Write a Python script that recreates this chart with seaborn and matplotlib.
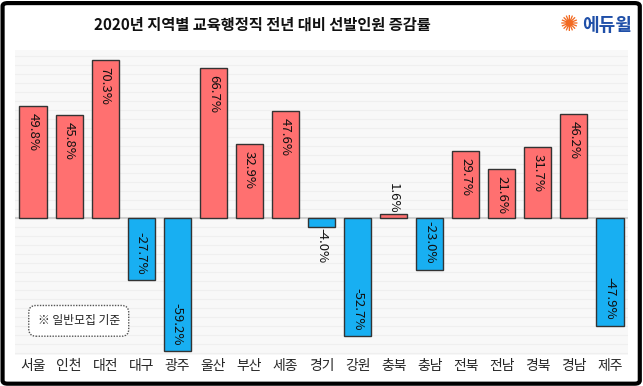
import matplotlib
matplotlib.use("Agg")
import matplotlib.pyplot as plt
from matplotlib.patches import FancyBboxPatch
import numpy as np
import pandas as pd
import seaborn as sns

regions = ["서울", "인천", "대전", "대구", "광주", "울산", "부산", "세종", "경기",
           "강원", "충북", "충남", "전북", "전남", "경북", "경남", "제주"]
changes = [49.8, 45.8, 70.3, -27.7, -59.2, 66.7, 32.9, 47.6, -4.0,
           -52.7, 1.6, -23.0, 29.7, 21.6, 31.7, 46.2, -47.9]
title = "2020년 지역별 교육행정직 전년 대비 선발인원 증감률"
note = "※ 일반모집 기준"
brand = "에듀윌"

sns.set_theme(style="white")
plt.rcParams['font.family'] = ['Noto Sans CJK KR', 'DejaVu Sans']

df = pd.DataFrame({"region": regions, "change": changes})
df["sign"] = np.where(df["change"] >= 0, "up", "down")

fig = plt.figure(figsize=(6.43, 3.86), dpi=100)
ax = fig.add_axes([0.0233, 0.0803, 0.9534, 0.7902])
ax.set_facecolor("#f8f8f8")

sns.barplot(data=df, x="region", y="change", hue="sign",
            palette={"up": "#ff7070", "down": "#18aff2"}, saturation=1,
            dodge=False, width=0.75, edgecolor="#333333", linewidth=1.0,
            legend=False, ax=ax, zorder=3)

ax.set_ylim(-61, 74.8)
ax.set_xlim(-0.5, len(regions) - 0.5)
ax.set_yticks(np.arange(-60, 76, 4))
ax.yaxis.grid(True, color="#efefef", linewidth=0.8, zorder=0)
ax.set_axisbelow(True)
ax.tick_params(axis="y", left=False, labelleft=False)
ax.tick_params(axis="x", bottom=False, length=0, pad=3, labelsize=10)
for lab in ax.get_xticklabels():
    lab.set_fontweight("medium")
ax.set_xlabel("")
ax.set_ylabel("")
for s in ax.spines.values():
    s.set_visible(False)
ax.axhline(0, color="#cfcfcf", linewidth=1.5, zorder=2)

for i, v in enumerate(changes):
    txt = f"{v:.1f}%"
    if abs(v) > 10:
        if v > 0:
            y, va = v - 3.0, "top"
        else:
            y, va = v + 2.6, "bottom"
    else:
        if v > 0:
            y, va = v + 0.5, "bottom"
        else:
            y, va = v - 0.4, "top"
    ax.text(i, y, txt, rotation=-90, ha="center", va=va, fontsize=9.5,
            color="#111111", zorder=5)

# note box
ax.text(0.104, 0.112, note, transform=ax.transAxes, ha="center", va="center",
        fontsize=8.5, color="#222222", zorder=6,
        bbox=dict(boxstyle="round,pad=0.75,rounding_size=0.6", facecolor="white",
                  edgecolor="#555555", linestyle=(0, (1, 1)), linewidth=1.0))

# title and brand
fig.text(0.408, 0.935, title, ha="center", va="center", fontsize=11,
         fontweight="bold", color="#111111")
fig.text(0.885, 0.935, "✺", ha="center", va="center", fontsize=16,
         color="#f26a21", family=["DejaVu Sans"])
fig.text(0.944, 0.935, brand, ha="center", va="center", fontsize=13,
         fontweight="bold", color="#1f4fa8")

# outer frame
frame = FancyBboxPatch((0.004, 0.006), 0.991, 0.986,
                       boxstyle="round,pad=0,rounding_size=0.008",
                       transform=fig.transFigure, facecolor="none",
                       edgecolor="black", linewidth=3, zorder=10)
fig.patches.append(frame)

fig.savefig("out.png", dpi=100, facecolor="white")
